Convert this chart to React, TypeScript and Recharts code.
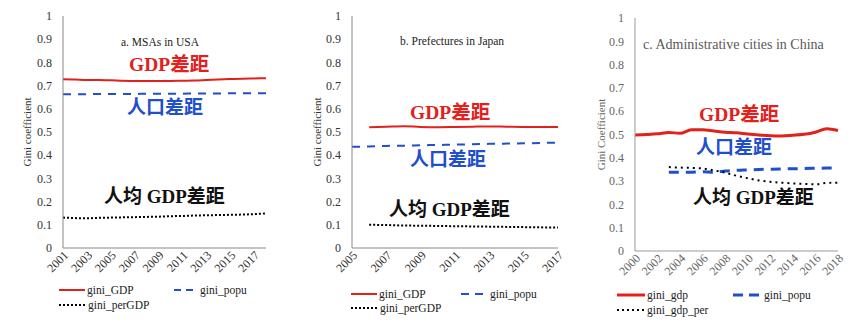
import React from 'react';
import { LineChart, Line, XAxis, YAxis } from 'recharts';

// panel a: MSAs in USA
const yearsA = ['2001', '2002', '2003', '2004', '2005', '2006', '2007', '2008', '2009', '2010', '2011', '2012', '2013', '2014', '2015', '2016', '2017', '2018'];
const gdpA = [0.727, 0.726, 0.724, 0.724, 0.723, 0.721, 0.72, 0.72, 0.72, 0.72, 0.721, 0.722, 0.724, 0.726, 0.728, 0.73, 0.731, 0.732];
const popuA = [0.663, 0.663, 0.663, 0.664, 0.664, 0.664, 0.664, 0.665, 0.665, 0.665, 0.665, 0.666, 0.666, 0.666, 0.667, 0.667, 0.667, 0.667];
const perA = [0.131, 0.129, 0.128, 0.13, 0.131, 0.132, 0.133, 0.134, 0.135, 0.137, 0.138, 0.14, 0.141, 0.142, 0.143, 0.144, 0.146, 0.149];

// panel b: Prefectures in Japan
const yearsB = ['2005', '2006', '2007', '2008', '2009', '2010', '2011', '2012', '2013', '2014', '2015', '2016', '2017'];
const gdpB = [null, 0.521, 0.523, 0.525, 0.522, 0.521, 0.522, 0.523, 0.524, 0.523, 0.522, 0.522, 0.522];
const popuB = [0.436, 0.438, 0.44, 0.441, 0.443, 0.444, 0.446, 0.447, 0.449, 0.45, 0.451, 0.453, 0.454];
const perB = [null, 0.1, 0.099, 0.097, 0.096, 0.095, 0.094, 0.093, 0.092, 0.091, 0.09, 0.089, 0.088];

// panel c: Administrative cities in China
const yearsC = ['2000', '2001', '2002', '2003', '2004', '2005', '2006', '2007', '2008', '2009', '2010', '2011', '2012', '2013', '2014', '2015', '2016', '2017', '2018'];
const gdpC = [0.498, 0.5, 0.503, 0.509, 0.505, 0.52, 0.52, 0.515, 0.51, 0.507, 0.502, 0.498, 0.495, 0.494, 0.497, 0.501, 0.51, 0.525, 0.517];
const popuC = [null, null, null, 0.338, 0.338, 0.338, 0.34, 0.338, 0.343, 0.346, 0.348, 0.35, 0.351, 0.352, 0.353, 0.354, 0.355, 0.356, 0.357];
const perC = [null, null, null, 0.36, 0.358, 0.357, 0.354, 0.346, 0.336, 0.323, 0.312, 0.303, 0.297, 0.293, 0.29, 0.288, 0.286, 0.292, 0.293];

const yTicks = [0, 0.1, 0.2, 0.3, 0.4, 0.5, 0.6, 0.7, 0.8, 0.9, 1];

const SERIF = "'Liberation Serif', 'Times New Roman', serif";
const CJK = "'Liberation Serif', 'Noto Sans CJK SC', serif";
const RED = '#e3201b';
const BLUE = '#1f4fcc';

const build = (years: string[], gdp: (number | null)[], popu: (number | null)[], per: (number | null)[]) =>
  years.map((y, i) => ({ year: y, gdp: gdp[i], popu: popu[i], per: per[i] }));

interface PanelProps {
  left: number;
  data: any[];
  yWidth: number;
  right: number;
  top: number;
  xHeight: number;
  yLabel: string;
  tickColor: string;
  borderColor: string;
  thick?: boolean;
}

const Panel: React.FC<PanelProps> = ({ left, data, yWidth, right, top, xHeight, yLabel, tickColor, borderColor, thick }) => (
  <div style={{ position: 'absolute', left, top: 0 }}>
    <LineChart width={290} height={323} data={data} margin={{ top, right, left: 0, bottom: 0 }}>
      <XAxis
        dataKey="year"
        interval={1}
        height={xHeight}
        tickLine={false}
        tickMargin={-4}
        axisLine={{ stroke: borderColor }}
        tick={{ angle: -45, textAnchor: 'end', fontSize: 12, fill: tickColor, fontFamily: SERIF }}
      />
      <XAxis xAxisId="top" orientation="top" dataKey="year" height={0} tick={false} tickLine={false} axisLine={{ stroke: borderColor }} />
      <YAxis
        domain={[0, 1]}
        ticks={yTicks}
        width={yWidth}
        tickLine={false}
        tickMargin={5}
        axisLine={{ stroke: borderColor }}
        tick={{ fontSize: 12, fill: tickColor, fontFamily: SERIF }}
        tickFormatter={(v: number) => (v === 0 || v === 1 ? String(v) : v.toFixed(1))}
        label={{ value: yLabel, angle: -90, position: 'center', dx: -4, style: { fontSize: 11, fill: tickColor, fontFamily: SERIF } }}
      />
      <YAxis yAxisId="right" orientation="right" domain={[0, 1]} width={0} tick={false} tickLine={false} axisLine={{ stroke: borderColor }} />
      <Line type="monotone" dataKey="gdp" stroke={RED} strokeWidth={thick ? 3 : 2} dot={false} isAnimationActive={false} />
      <Line type="monotone" dataKey="popu" stroke={BLUE} strokeWidth={thick ? 3 : 2} strokeDasharray={thick ? '10 7' : '8 7'} dot={false} isAnimationActive={false} />
      <Line type="monotone" dataKey="per" stroke="#000" strokeWidth={2} strokeDasharray={thick ? '2 4' : '2 2'} dot={false} isAnimationActive={false} />
    </LineChart>
  </div>
);

const Note: React.FC<{ x: number; y: number; color: string; size: number; bold?: boolean; family?: string; children: React.ReactNode }> = ({ x, y, color, size, bold, family, children }) => (
  <div style={{ position: 'absolute', left: x, top: y - size * 0.6, lineHeight: `${size * 1.2}px`, fontSize: size, color, fontWeight: bold ? 'bold' : 'normal', fontFamily: family || SERIF, whiteSpace: 'nowrap' }}>
    {children}
  </div>
);

const Key: React.FC<{ x: number; y: number; w: number; color: string; width: number; dash?: string; label: string }> = ({ x, y, w, color, width, dash, label }) => (
  <div style={{ position: 'absolute', left: x, top: y - 8, height: 16, display: 'flex', alignItems: 'center', fontFamily: SERIF, fontSize: 11.5, color: '#222', whiteSpace: 'nowrap' }}>
    <svg width={w} height={6} style={{ marginRight: 2 }}>
      <line x1={0} y1={3} x2={w} y2={3} stroke={color} strokeWidth={width} strokeDasharray={dash} />
    </svg>
    <span>{label}</span>
  </div>
);

export default function App() {
  const dataA = build(yearsA, gdpA, popuA, perA);
  const dataB = build(yearsB, gdpB, popuB, perB);
  const dataC = build(yearsC, gdpC, popuC, perC);

  return (
    <div style={{ position: 'absolute', left: 0, top: 0, width: 865, height: 323, background: '#fff', overflow: 'hidden' }}>
      <Panel left={0} data={dataA} yWidth={63} right={24} top={16} xHeight={75} yLabel="Gini coefficient" tickColor="#333" borderColor="#888" />
      <Panel left={290} data={dataB} yWidth={62} right={22} top={16} xHeight={75} yLabel="Gini coefficient" tickColor="#333" borderColor="#888" />
      <Panel left={575} data={dataC} yWidth={60} right={27} top={18} xHeight={72} yLabel="Gini Coefficient" tickColor="#666" borderColor="#999" thick />

      {/* panel a notes */}
      <Note x={121} y={43} color="#222" size={11.5}>a. MSAs in USA</Note>
      <Note x={129} y={65} color={RED} size={19.5} bold family={CJK}>GDP差距</Note>
      <Note x={127} y={108} color={BLUE} size={19} bold family={CJK}>人口差距</Note>
      <Note x={104} y={197} color="#111" size={19} bold family={CJK}>人均 GDP差距</Note>

      {/* panel b notes */}
      <Note x={400} y={42} color="#222" size={11.5}>b. Prefectures in Japan</Note>
      <Note x={410} y={113} color={RED} size={19.5} bold family={CJK}>GDP差距</Note>
      <Note x={410} y={160} color={BLUE} size={19} bold family={CJK}>人口差距</Note>
      <Note x={389} y={210} color="#111" size={19} bold family={CJK}>人均 GDP差距</Note>

      {/* panel c notes */}
      <Note x={643} y={45} color="#595959" size={14}>c. Administrative cities in China</Note>
      <Note x={699} y={115} color={RED} size={19.5} bold family={CJK}>GDP差距</Note>
      <Note x={696} y={148} color={BLUE} size={19} bold family={CJK}>人口差距</Note>
      <Note x={693} y={198} color="#111" size={19} bold family={CJK}>人均 GDP差距</Note>

      {/* legends */}
      <Key x={59} y={290} w={26} color={RED} width={2} label="gini_GDP" />
      <Key x={174} y={290} w={24} color={BLUE} width={2} dash="7 5" label="gini_popu" />
      <Key x={59} y={305} w={27} color="#000" width={2} dash="2 2" label="gini_perGDP" />

      <Key x={351} y={294} w={26} color={RED} width={2} label="gini_GDP" />
      <Key x={461} y={294} w={27} color={BLUE} width={2} dash="8 6" label="gini_popu" />
      <Key x={351} y={308} w={27} color="#000" width={2} dash="2 2" label="gini_perGDP" />

      <Key x={617} y={295} w={28} color={RED} width={3} label="gini_gdp" />
      <Key x={733} y={295} w={29} color={BLUE} width={3} dash="10 6" label="gini_popu" />
      <Key x={617} y={310} w={28} color="#000" width={2} dash="2 3" label="gini_gdp_per" />
    </div>
  );
}
